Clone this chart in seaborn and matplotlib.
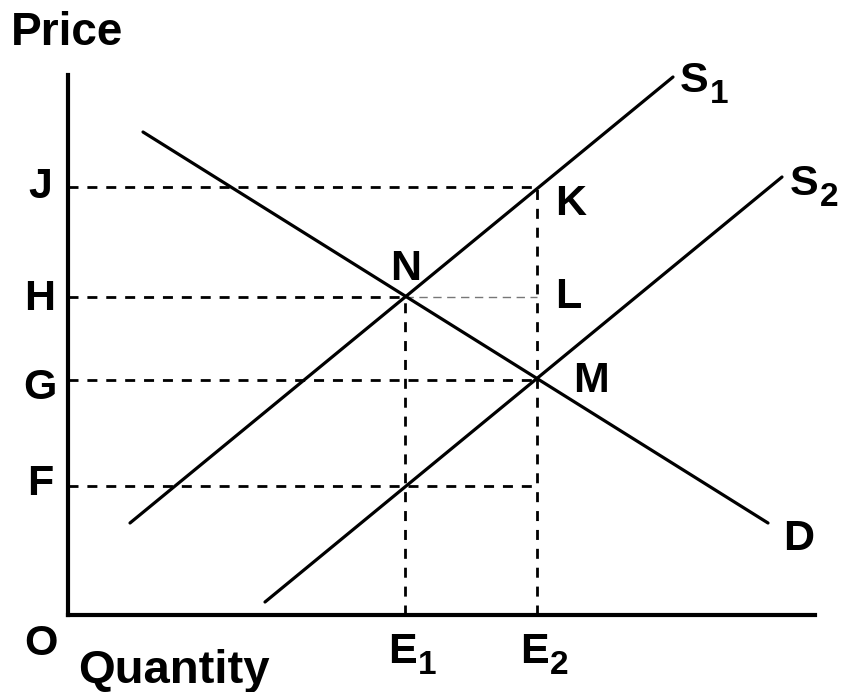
import matplotlib
matplotlib.use("Agg")
import matplotlib.pyplot as plt
import seaborn as sns

# supply / demand curves (endpoints, axis units)
s1_x = [62, 605]
s1_y = [92, 538]
s2_x = [197, 714]
s2_y = [13, 438]
d_x = [75, 700]
d_y = [483, 92]

# price levels and quantities
price_names = ["J", "H", "G", "F"]
price_vals = [428, 318, 235, 129]
qty_names = [("E", "1"), ("E", "2")]
qty_vals = [337, 469]

sns.set_style("white")
plt.rcParams["font.family"] = ["Liberation Sans", "DejaVu Sans"]
plt.rcParams["font.weight"] = "bold"
plt.rcParams["text.color"] = "black"

fig = plt.figure(figsize=(8.46, 6.92), dpi=100)
ax = fig.add_axes([68 / 846, 77 / 692, 747 / 846, 540 / 692])
ax.set_xlim(0, 747)
ax.set_ylim(0, 540)
for side in ["top", "right"]:
    ax.spines[side].set_visible(False)
for side in ["left", "bottom"]:
    ax.spines[side].set_linewidth(3)
    ax.spines[side].set_color("black")
ax.set_xticks([])
ax.set_yticks([])

dash = (0, (3.6, 3.2))
J, H, G, F = price_vals
E1, E2 = qty_vals


def seg(xs, ys, **kw):
    sns.lineplot(x=xs, y=ys, ax=ax, estimator=None, sort=False,
                 clip_on=False, **kw)


# dashed guides
for p in [J, G, F]:
    seg([0, E2], [p, p], color="black", lw=2, linestyle=dash)
seg([0, E1], [H, H], color="black", lw=2, linestyle=dash)
seg([E1, E2], [H, H], color="#777777", lw=1, linestyle=(0, (6, 4)))
seg([E1, E1], [0, H], color="black", lw=2, linestyle=dash)
seg([E2, E2], [0, J], color="black", lw=2, linestyle=dash)

# curves
seg(s1_x, s1_y, color="black", lw=2.3)
seg(s2_x, s2_y, color="black", lw=2.3)
seg(d_x, d_y, color="black", lw=2.3)

fs = 31
kw = dict(fontsize=fs, fontweight="bold", va="baseline", clip_on=False)


def sub_label(x, y, main, sub):
    ax.text(x, y, main, ha="left", **kw)
    ax.annotate(sub, xy=(x, y), xytext=(21.5, -8), textcoords="offset points",
                fontsize=24, fontweight="bold", ha="left", va="baseline",
                annotation_clip=False)


lift = [-11, -13, -19, -9]
for name, p, dy in zip(price_names, price_vals, lift):
    ax.text(-28, p + dy, name, ha="center", **kw)
for (m, s), q in zip(qty_names, qty_vals):
    sub_label(q - 17, -48, m, s)

ax.text(E2 + 18, J - 28, "K", ha="left", **kw)
ax.text(E2 + 18, H - 11, "L", ha="left", **kw)
ax.text(E2 + 36, G - 12, "M", ha="left", **kw)
ax.text(E1 + 1, H + 17, "N", ha="center", **kw)
sub_label(s1_x[1] + 7, s1_y[1] - 15, "S", "1")
sub_label(s2_x[1] + 8, s2_y[1] - 18, "S", "2")
ax.text(d_x[1] + 15, d_y[1] - 27, "D", ha="left", **kw)
ax.text(-27, -40, "O", ha="center", **kw)
ax.text(10, -68, "Quantity", fontsize=34, fontweight="bold", ha="left",
        va="baseline", clip_on=False)
ax.text(-57, 570, "Price", fontsize=33, fontweight="bold", ha="left",
        va="baseline", clip_on=False)

fig.savefig("out.png", dpi=100)
